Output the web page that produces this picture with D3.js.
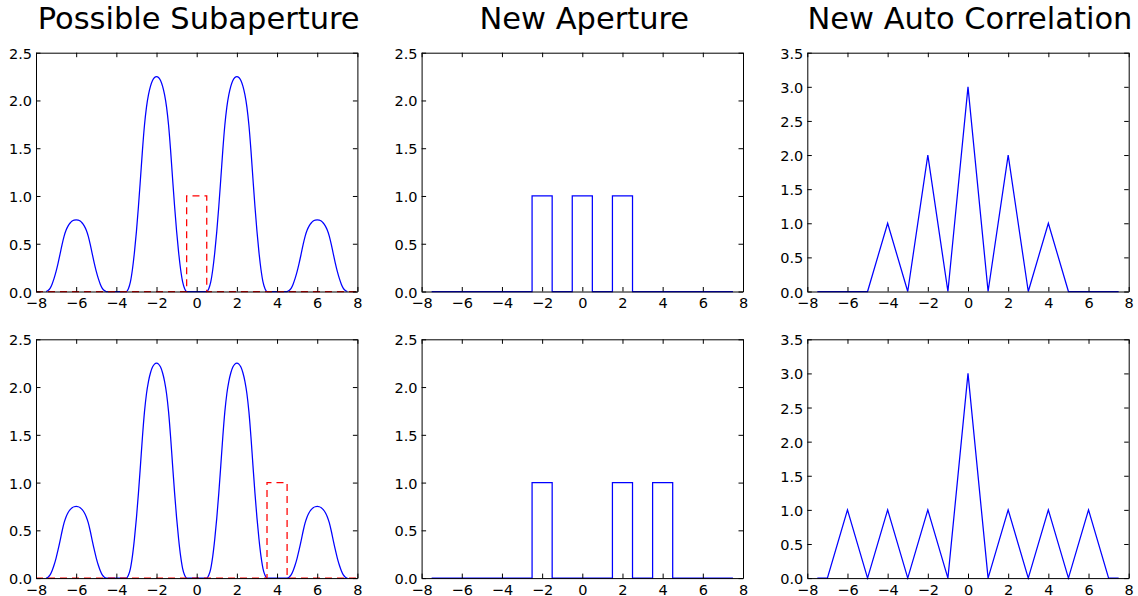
<!DOCTYPE html>
<html>
<head>
<meta charset="utf-8">
<script src="https://cdn.jsdelivr.net/npm/d3@7"></script>
<style>
  body { margin: 0; background: #fff; }
  svg { display: block; }
</style>
</head>
<body>
<svg id="fig" width="1138" height="596"></svg>
<script>
// ---- data ----------------------------------------------------------------
const titles = ["Possible Subaperture", "New Aperture", "New Auto Correlation"];
const xTicks = [-8, -6, -4, -2, 0, 2, 4, 6, 8];
const yTicksAperture = [0, 0.5, 1, 1.5, 2, 2.5];
const yTicksCorrelation = [0, 0.5, 1, 1.5, 2, 2.5, 3, 3.5];

// smooth envelope of possible subaperture positions (sampled every 0.1)
const envelopeX = [
  -7.5,-7.4,-7.3,-7.2,-7.1,-7.0,-6.9,-6.8,-6.7,-6.6,-6.5,-6.4,-6.3,-6.2,-6.1,-6.0,
  -5.9,-5.8,-5.7,-5.6,-5.5,-5.4,-5.3,-5.2,-5.1,-5.0,-4.9,-4.8,-4.7,-4.6,-4.5,
  -3.5,-3.4,-3.3,-3.2,-3.1,-3.0,-2.9,-2.8,-2.7,-2.6,-2.5,-2.4,-2.3,-2.2,-2.1,-2.0,
  -1.9,-1.8,-1.7,-1.6,-1.5,-1.4,-1.3,-1.2,-1.1,-1.0,-0.9,-0.8,-0.7,-0.6,-0.5,
  0.5,0.6,0.7,0.8,0.9,1.0,1.1,1.2,1.3,1.4,1.5,1.6,1.7,1.8,1.9,2.0,
  2.1,2.2,2.3,2.4,2.5,2.6,2.7,2.8,2.9,3.0,3.1,3.2,3.3,3.4,3.5,
  4.5,4.6,4.7,4.8,4.9,5.0,5.1,5.2,5.3,5.4,5.5,5.6,5.7,5.8,5.9,6.0,
  6.1,6.2,6.3,6.4,6.5,6.6,6.7,6.8,6.9,7.0,7.1,7.2,7.3,7.4,7.5
];
const envelopeY = [
  0,0.01,0.033,0.077,0.137,0.21,0.297,0.393,0.493,0.58,0.643,0.687,0.717,0.737,0.747,0.75,
  0.747,0.737,0.717,0.687,0.643,0.58,0.493,0.393,0.297,0.21,0.137,0.077,0.033,0.01,0,
  0,0.03,0.10,0.23,0.41,0.63,0.89,1.18,1.48,1.74,1.93,2.06,2.15,2.21,2.24,2.25,
  2.24,2.21,2.15,2.06,1.93,1.74,1.48,1.18,0.89,0.63,0.41,0.23,0.10,0.03,0,
  0,0.03,0.10,0.23,0.41,0.63,0.89,1.18,1.48,1.74,1.93,2.06,2.15,2.21,2.24,2.25,
  2.24,2.21,2.15,2.06,1.93,1.74,1.48,1.18,0.89,0.63,0.41,0.23,0.10,0.03,0,
  0,0.01,0.033,0.077,0.137,0.21,0.297,0.393,0.493,0.58,0.643,0.687,0.717,0.737,0.747,0.75,
  0.747,0.737,0.717,0.687,0.643,0.58,0.493,0.393,0.297,0.21,0.137,0.077,0.033,0.01,0
];

// candidate subaperture windows (dashed)
const windowTopX = [-8, -0.5, -0.5, 0.5, 0.5, 8];
const windowTopY = [0, 0, 1, 1, 0, 0];
const windowBottomX = [-8, 3.5, 3.5, 4.5, 4.5, 8];
const windowBottomY = [0, 0, 1, 1, 0, 0];

// resulting apertures
const apertureTopX = [-7.5, -2.5, -2.5, -1.5, -1.5, -0.5, -0.5, 0.5, 0.5, 1.5, 1.5, 2.5, 2.5, 7.5];
const apertureTopY = [0, 0, 1, 1, 0, 0, 1, 1, 0, 0, 1, 1, 0, 0];
const apertureBottomX = [-7.5, -2.5, -2.5, -1.5, -1.5, 1.5, 1.5, 2.5, 2.5, 3.5, 3.5, 4.5, 4.5, 7.5];
const apertureBottomY = [0, 0, 1, 1, 0, 0, 1, 1, 0, 0, 1, 1, 0, 0];

// auto correlation of each aperture
const correlationTopX = [-7.5, -5, -4, -3, -2, -1, 0, 1, 2, 3, 4, 5, 7.5];
const correlationTopY = [0, 0, 1, 0, 2, 0, 3, 0, 2, 0, 1, 0, 0];
const correlationBottomX = [-7.5, -7, -6, -5, -4, -3, -2, -1, 0, 1, 2, 3, 4, 5, 6, 7, 7.5];
const correlationBottomY = [0, 0, 1, 0, 1, 0, 1, 0, 3, 0, 1, 0, 1, 0, 1, 0, 0];

// ---- layout --------------------------------------------------------------
const colLeft = [36, 421.6, 807.3];
const rowTop = [52.7, 339.3];
const plotW = 321.4;
const plotH = 238.8;
const tickLen = 4.5;
const font = "'DejaVu Sans', 'Bitstream Vera Sans', sans-serif";

const solid = { color: "#0000ff", dash: null };
const dashed = { color: "#ff0000", dash: "7,5" };

const zip = (xs, ys) => xs.map((x, i) => [x, ys[i]]);

const panels = [
  { row: 0, col: 0, yMax: 2.5, yTicks: yTicksAperture,
    series: [[zip(envelopeX, envelopeY), solid], [zip(windowTopX, windowTopY), dashed]], smooth: true },
  { row: 0, col: 1, yMax: 2.5, yTicks: yTicksAperture,
    series: [[zip(apertureTopX, apertureTopY), solid]] },
  { row: 0, col: 2, yMax: 3.5, yTicks: yTicksCorrelation,
    series: [[zip(correlationTopX, correlationTopY), solid]] },
  { row: 1, col: 0, yMax: 2.5, yTicks: yTicksAperture,
    series: [[zip(envelopeX, envelopeY), solid], [zip(windowBottomX, windowBottomY), dashed]], smooth: true },
  { row: 1, col: 1, yMax: 2.5, yTicks: yTicksAperture,
    series: [[zip(apertureBottomX, apertureBottomY), solid]] },
  { row: 1, col: 2, yMax: 3.5, yTicks: yTicksCorrelation,
    series: [[zip(correlationBottomX, correlationBottomY), solid]] }
];

const svg = d3.select("#fig");
const fmtX = d3.format("d");
const fmtY = d3.format(".1f");

// column titles
titles.forEach((t, i) => {
  svg.append("text")
    .attr("x", colLeft[i] + plotW / 2 + 2)
    .attr("y", 28.5)
    .attr("text-anchor", "middle")
    .attr("font-family", font)
    .attr("font-size", 30.5)
    .attr("fill", "#000")
    .text(t);
});

panels.forEach(p => {
  const g = svg.append("g")
    .attr("transform", `translate(${colLeft[p.col]},${rowTop[p.row]})`);
  const x = d3.scaleLinear().domain([-8, 8]).range([0, plotW]);
  const y = d3.scaleLinear().domain([0, p.yMax]).range([plotH, 0]);

  // data lines
  p.series.forEach(([pts, style], k) => {
    const line = d3.line()
      .x(d => x(d[0]))
      .y(d => y(d[1]))
      .curve(p.smooth && k === 0 ? d3.curveMonotoneX : d3.curveLinear);
    g.append("path")
      .datum(pts)
      .attr("d", line)
      .attr("fill", "none")
      .attr("stroke", style.color)
      .attr("stroke-width", 1.25)
      .attr("stroke-dasharray", style.dash)
      .attr("stroke-linejoin", "miter");
  });

  // frame and inward ticks on all four sides
  const styleAxis = sel => {
    sel.attr("font-family", font).attr("font-size", 14.5);
    sel.select(".domain").attr("stroke", "#000").attr("stroke-width", 1);
    sel.selectAll(".tick line").attr("stroke", "#000").attr("stroke-width", 1);
    sel.selectAll(".tick text").attr("fill", "#000");
  };

  g.append("g")
    .attr("transform", `translate(0,${plotH})`)
    .call(d3.axisBottom(x).tickValues(xTicks).tickFormat(fmtX)
      .tickSizeInner(-tickLen).tickSizeOuter(0).tickPadding(6.3))
    .call(styleAxis);

  g.append("g")
    .call(d3.axisTop(x).tickValues(xTicks).tickFormat("")
      .tickSizeInner(-tickLen).tickSizeOuter(0))
    .call(styleAxis);

  g.append("g")
    .call(d3.axisLeft(y).tickValues(p.yTicks).tickFormat(fmtY)
      .tickSizeInner(-tickLen).tickSizeOuter(0).tickPadding(4))
    .call(styleAxis)
    .selectAll(".tick text").attr("dy", "0.38em");

  g.append("g")
    .attr("transform", `translate(${plotW},0)`)
    .call(d3.axisRight(y).tickValues(p.yTicks).tickFormat("")
      .tickSizeInner(-tickLen).tickSizeOuter(0))
    .call(styleAxis);
});
</script>
</body>
</html>
